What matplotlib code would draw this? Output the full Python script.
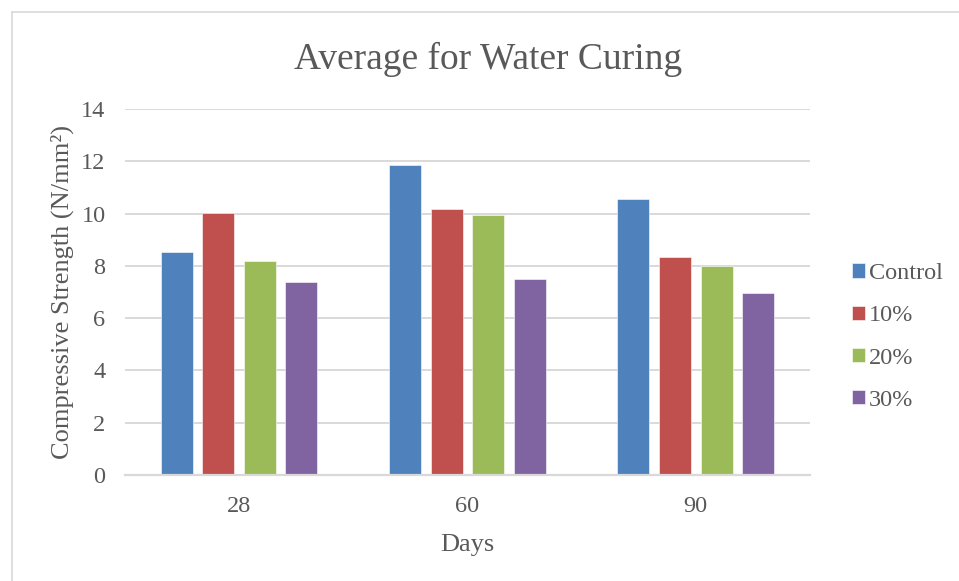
import matplotlib.pyplot as plt
import numpy as np
from matplotlib.lines import Line2D

DAYS = ["28", "60", "90"]
SERIES = ["Control", "10%", "20%", "30%"]
CONTROL = [8.52, 11.86, 10.56]
PCT_10 = [10.01, 10.19, 8.32]
PCT_20 = [8.17, 9.96, 8.01]
PCT_30 = [7.37, 7.48, 6.95]
COLORS = ["#4F81BD", "#C0504D", "#9BBB59", "#8064A2"]

TEXT_COLOR = "#595959"
GRID_COLOR = "#D9D9D9"

plt.rcParams["font.family"] = ["Liberation Serif", "DejaVu Serif"]


def plot_chart():
    fig = plt.figure(figsize=(9.59, 5.81), dpi=100)
    ax = fig.add_axes([0.1303, 0.1824, 0.7143, 0.63])

    x = np.arange(len(DAYS))
    width = 0.14
    pitch = 0.182
    values = [CONTROL, PCT_10, PCT_20, PCT_30]
    for i, (name, vals, color) in enumerate(zip(SERIES, values, COLORS)):
        offset = (i - 1.5) * pitch
        ax.bar(x + offset, vals, width, color=color, label=name,
               edgecolor="white", linewidth=0.4, zorder=3)

    ax.set_xlim(-0.5, 2.5)
    ax.set_ylim(0, 14)
    ax.set_yticks(range(0, 15, 2))
    ax.set_xticks(x)
    ax.set_xticklabels(DAYS)

    ax.grid(axis="y", color=GRID_COLOR, linewidth=1.4, zorder=0)
    for side in ["left", "right", "top"]:
        ax.spines[side].set_visible(False)
    ax.spines["bottom"].set_color(GRID_COLOR)
    ax.spines["bottom"].set_linewidth(1.6)
    ax.spines["bottom"].set_zorder(4)

    ax.tick_params(axis="both", length=0, labelsize=17.5, colors=TEXT_COLOR)
    ax.tick_params(axis="y", pad=14)
    ax.tick_params(axis="x", pad=15)

    ax.set_xlabel("Days", fontsize=19, color=TEXT_COLOR, labelpad=12)
    ax.set_ylabel("Compressive Strength (N/mm²)", fontsize=19,
                  color=TEXT_COLOR, labelpad=5)

    fig.text(0.509, 0.897, "Average for Water Curing", fontsize=27,
             color=TEXT_COLOR, ha="center", va="center")

    leg = ax.legend(loc="center left", bbox_to_anchor=(1.043, 0.377),
                    frameon=False, fontsize=17.5, borderpad=0,
                    handlelength=0.55, handleheight=0.55, handletextpad=0.15,
                    labelspacing=0.87)
    for t in leg.get_texts():
        t.set_color(TEXT_COLOR)

    # chart area border (only the top and left edges are in frame)
    fig.add_artist(Line2D([12 / 959, 12 / 959], [0, 1 - 12 / 581],
                          transform=fig.transFigure, color=GRID_COLOR, lw=1.2))
    fig.add_artist(Line2D([12 / 959, 1], [1 - 12 / 581, 1 - 12 / 581],
                          transform=fig.transFigure, color=GRID_COLOR, lw=1.2))

    fig.savefig("out.png", dpi=100, facecolor="white")


def main():
    plot_chart()


if __name__ == "__main__":
    main()
